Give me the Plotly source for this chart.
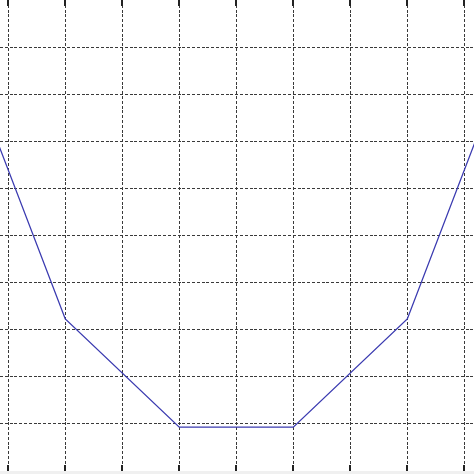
import plotly.graph_objects as go

# piecewise line (grid units)
x_vals = [-5, -3, -1, 1, 3, 5]
y_vals = [9.55, 3.23, 0.93, 0.93, 3.23, 9.55]

x_ticks = [-4, -3, -2, -1, 0, 1, 2, 3, 4]
y_ticks = [0, 1, 2, 3, 4, 5, 6, 7, 8, 9, 10]

fig = go.Figure(go.Scatter(x=x_vals, y=y_vals, mode="lines",
                           line=dict(color="#3a3ab0", width=1.3),
                           hoverinfo="skip"))

fig.update_layout(width=474, height=474, margin=dict(l=0, r=0, t=0, b=3),
                  paper_bgcolor="#f0f0f0", plot_bgcolor="white", showlegend=False)
fig.update_xaxes(range=[-4.145, 4.17], tickvals=x_ticks, showticklabels=False,
                 ticks="inside", ticklen=6, tickcolor="#222", tickwidth=1.5, mirror="ticks",
                 showgrid=True, gridcolor="#3a3a3a", gridwidth=1.3, griddash="3px,1.8px",
                 zeroline=False, showline=False)
fig.update_yaxes(range=[0, 10], tickvals=y_ticks, showticklabels=False, ticks="",
                 showgrid=True, gridcolor="#3a3a3a", gridwidth=1.3, griddash="3px,1.8px",
                 zeroline=False, showline=False)

# page body has an 8px default margin, drop it so the figure sits at 0,0
fig.write_html("out.html", config={"displayModeBar": False},
               post_script="document.body.style.margin='0';")
